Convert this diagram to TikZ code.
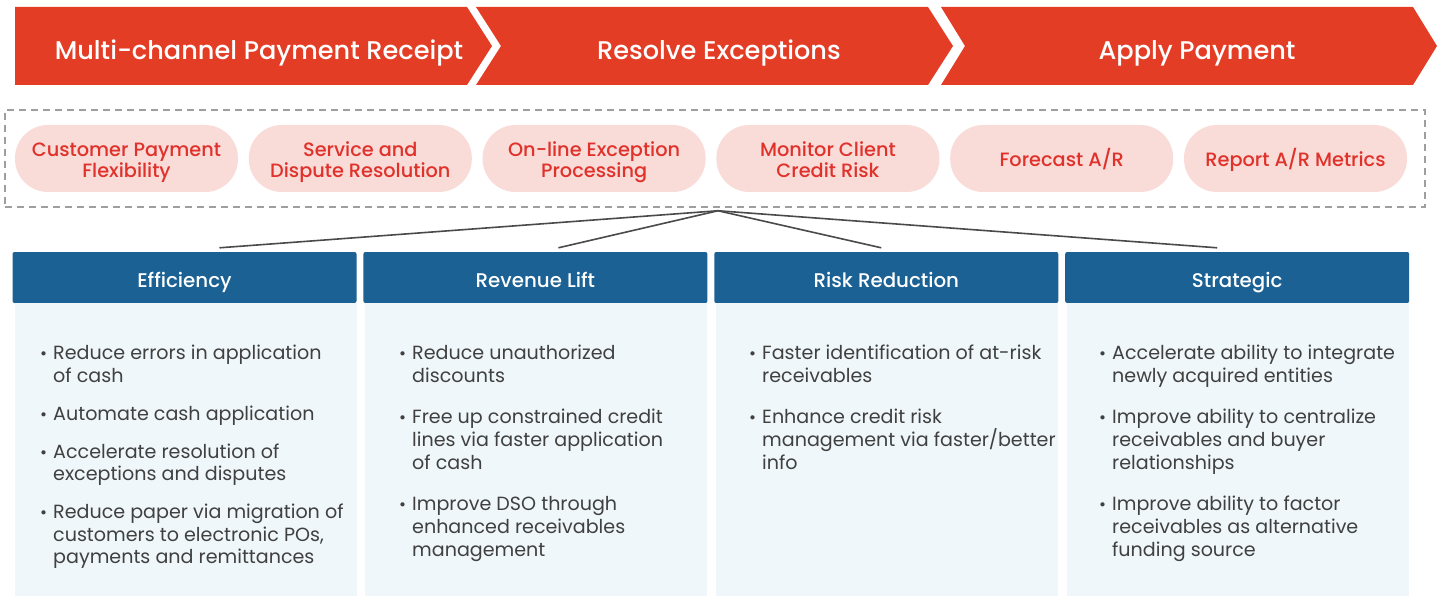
\documentclass[tikz,border=0pt]{standalone}
\usepackage{fontspec}
\setmainfont{Poppins}[BoldFont={Poppins Medium}]
\usepackage{tikz}
\usetikzlibrary{positioning,calc}

\definecolor{chevred}{HTML}{E43D26}
\definecolor{pillpink}{HTML}{F9DBD8}
\definecolor{pilltext}{HTML}{E0312B}
\definecolor{framegray}{HTML}{9E9E9E}
\definecolor{linkgray}{HTML}{4A4A4A}
\definecolor{headblue}{HTML}{1B6194}
\definecolor{bodyblue}{HTML}{EFF7FB}
\definecolor{bodygray}{HTML}{404040}

\newcommand\bitem{\llap{{\fontsize{17}{17}\selectfont\textbullet}\hspace{6pt}}}

\begin{document}
\begin{tikzpicture}[x=1pt, y=-1pt,
    stage/.style={text=white, anchor=base, inner sep=0pt, font=\fontsize{25.6}{30}\selectfont\bfseries},
    pill/.style={rectangle, rounded corners=33pt, fill=pillpink, text=pilltext, minimum width=223pt, minimum height=67pt, align=center, inner sep=0pt, text height=43.6pt, text depth=5pt, font=\fontsize{19.3}{21}\selectfont\bfseries},
    onepill/.style={pill, text height=21.6pt},
    frame/.style={rectangle, draw=framegray, line width=1.5pt, dash pattern=on 7pt off 5pt, minimum width=1420pt, minimum height=97pt},
    head/.style={rectangle, rounded corners=2pt, fill=headblue, text=white, minimum width=344pt, minimum height=51pt, inner sep=0pt, text height=19pt, text depth=0pt, font=\fontsize{19.8}{22}\selectfont\bfseries},
    bodybox/.style={rectangle, fill=bodyblue, minimum width=342pt, minimum height=293pt, anchor=north east, inner sep=0pt},
    items/.style={anchor=north west, align=left, inner sep=0pt, text=bodygray, font=\fontsize{19.1}{23}\selectfont},
    link/.style={draw=linkgray, line width=1.6pt}]

    \useasboundingbox (0,0) rectangle (1440,596);

    % Process chevrons
    \fill[chevred] (15,7) -- (467,7) -- (492,46) -- (467,85) -- (15,85) -- cycle;
    \fill[chevred] (476,7) -- (928,7) -- (953,46) -- (928,85) -- (476,85) -- (501,46) -- cycle;
    \fill[chevred] (941,7) -- (1413,7) -- (1437,46) -- (1413,85) -- (941,85) -- (965,46) -- cycle;
    \node[stage] (receipt) at (259,60) {Multi-channel Payment Receipt};
    \node[stage] (resolve) at (719,60) {Resolve Exceptions};
    \node[stage] (apply) at (1197,60) {Apply Payment};

    % Capabilities
    \node[frame] (band) at (715,158.5) {};
    \node[pill] (flex) at (126.5,158.5) {Customer Payment\\Flexibility};
    \node[pill, right=10.4pt of flex] (dispute) {Service and\\Dispute Resolution};
    \node[pill, right=10.4pt of dispute] (online) {On-line Exception\\Processing};
    \node[pill, right=10.4pt of online] (credit) {Monitor Client\\Credit Risk};
    \node[onepill, right=10.4pt of credit] (forecast) {Forecast A/R};
    \node[onepill, right=10.4pt of forecast] (metrics) {Report A/R Metrics};

    % Benefit headers
    \node[head] (eff) at (184.5,277.5) {Efficiency};
    \node[head, right=6.5pt of eff] (rev) {Revenue Lift};
    \node[head, right=6.5pt of rev] (risk) {Risk Reduction};
    \node[head, right=6.5pt of risk] (strat) {Strategic};

    \node[bodybox] (effbody) at (eff.south east) {};
    \node[bodybox] (revbody) at (rev.south east) {};
    \node[bodybox] (riskbody) at (risk.south east) {};
    \node[bodybox] (stratbody) at (strat.south east) {};

    % Links
    \coordinate (hub) at ($(band.south)+(3,3)$);
    \draw[link] (hub) -- ($(eff.north)+(35,-4)$);
    \draw[link] (hub) -- ($(rev.north)+(23,-4)$);
    \draw[link] (hub) -- ($(risk.north)+(-5,-4)$);
    \draw[link] (hub) -- ($(strat.north)+(-20,-4)$);

    % Bullet lists
    \node[items, font=\fontsize{19.1}{22.5}\selectfont] (efftext) at (53,345) {\bitem Reduce errors in application\\of cash\\[15.5pt]
        \bitem Automate cash application\\[15.5pt]
        \bitem Accelerate resolution of\\exceptions and disputes\\[15.5pt]
        \bitem Reduce paper via migration of\\customers to electronic POs,\\payments and remittances};
    \node[items] (revtext) at (412,345) {\bitem Reduce unauthorized\\discounts\\[18pt]
        \bitem Free up constrained credit\\lines via faster application\\of cash\\[18pt]
        \bitem Improve DSO through\\enhanced receivables\\management};
    \node[items] (risktext) at (762,345) {\bitem Faster identification of at-risk\\receivables\\[18pt]
        \bitem Enhance credit risk\\management via faster/better\\info};
    \node[items] (strattext) at (1112,345) {\bitem Accelerate ability to integrate\\newly acquired entities\\[18pt]
        \bitem Improve ability to centralize\\receivables and buyer\\relationships\\[18pt]
        \bitem Improve ability to factor\\receivables as alternative\\funding source};

\end{tikzpicture}
\end{document}
